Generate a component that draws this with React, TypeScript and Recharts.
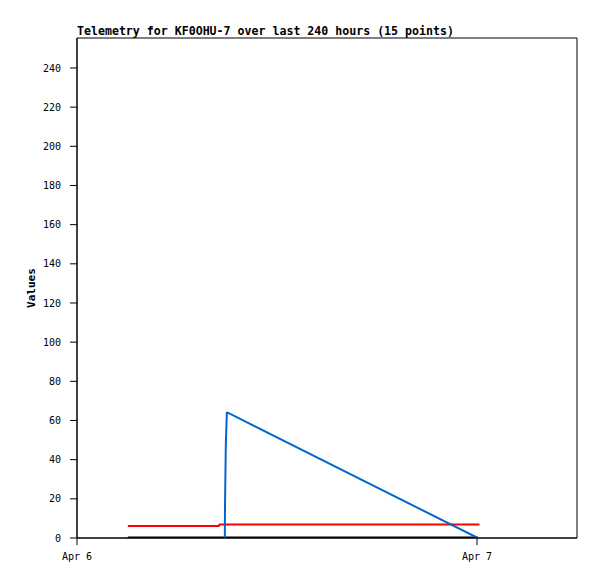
import React from 'react';
import {
  LineChart,
  Line,
  XAxis,
  YAxis,
  ReferenceArea,
} from 'recharts';

// hours since Apr 6 00:00
const blackHours = [3.05, 24.05];
const blackValues = [0, 0];

const redHours = [3.05, 8.5, 8.55, 24.15];
const redValues = [6.1, 6.1, 6.9, 6.9];

const blueHours = [8.87, 8.88, 8.93, 8.99, 9.05, 24.05];
const blueValues = [0, 16, 48, 64, 64, 0];

const xTicks = [0, 24];
const xTickLabels = ['Apr 6', 'Apr 7'];
const yTicks = [0, 20, 40, 60, 80, 100, 120, 140, 160, 180, 200, 220, 240];

const toRows = (hours: number[], values: number[]) =>
  hours.map((t, i) => ({ t, v: values[i] }));

const font = '"DejaVu Sans Mono", monospace';

const App: React.FC = () => {
  const tickStyle = { fontFamily: font, fontSize: 10, fill: '#000' };

  return (
    <div style={{ position: 'absolute', left: 0, top: 0, width: 597, height: 579, background: '#fff' }}>
      <div
        style={{
          position: 'absolute',
          left: 77,
          top: 25,
          fontFamily: font,
          fontSize: 11.6,
          fontWeight: 'bold',
          lineHeight: '13px',
          whiteSpace: 'nowrap',
        }}
      >
        Telemetry for KF0OHU-7 over last 240 hours (15 points)
      </div>
      <LineChart
        width={597}
        height={579}
        margin={{ top: 38, right: 20, bottom: 0, left: 0 }}
      >
        <XAxis
          type="number"
          dataKey="t"
          domain={[0, 30]}
          ticks={xTicks}
          tickFormatter={(t: number) => xTickLabels[xTicks.indexOf(t)] ?? ''}
          height={41}
          tickSize={7}
          tickMargin={8}
          stroke="#000"
          tick={tickStyle}
          allowDataOverflow
        />
        <YAxis
          type="number"
          domain={[0, 255.3]}
          ticks={yTicks}
          width={77}
          tickSize={7}
          tickMargin={9}
          stroke="#000"
          tick={tickStyle}
          allowDataOverflow
          label={{
            value: 'Values',
            angle: -90,
            position: 'insideLeft',
            offset: 31,
            style: { fontFamily: font, fontSize: 11, fontWeight: 'bold', fill: '#000', textAnchor: 'middle' },
          }}
        />
        <ReferenceArea x1={0} x2={30} y1={0} y2={255.3} fill="none" stroke="#000" strokeWidth={1} ifOverflow="visible" />
        <Line
          data={toRows(blackHours, blackValues)}
          dataKey="v"
          type="linear"
          stroke="#000"
          strokeWidth={3}
          dot={false}
          isAnimationActive={false}
        />
        <Line
          data={toRows(redHours, redValues)}
          dataKey="v"
          type="linear"
          stroke="#ff0000"
          strokeWidth={2}
          dot={false}
          isAnimationActive={false}
        />
        <Line
          data={toRows(blueHours, blueValues)}
          dataKey="v"
          type="linear"
          stroke="#0066cc"
          strokeWidth={2}
          dot={false}
          isAnimationActive={false}
        />
      </LineChart>
    </div>
  );
};

export default App;
